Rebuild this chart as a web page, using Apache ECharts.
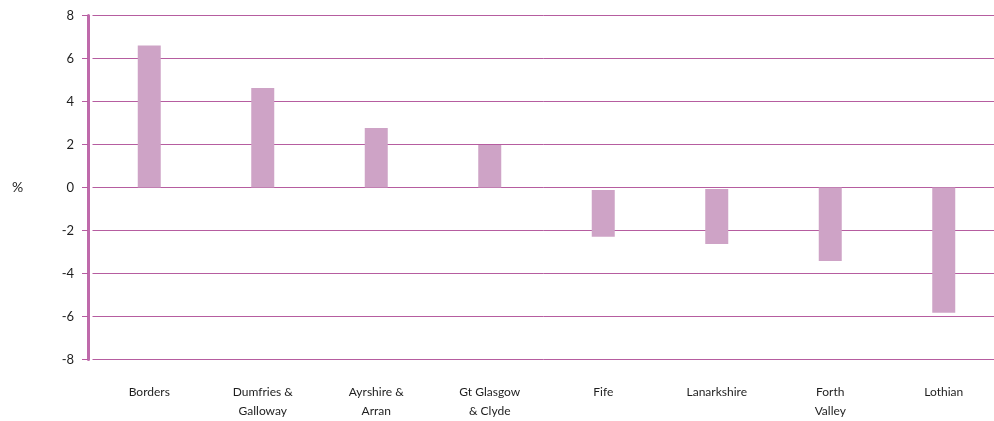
<!DOCTYPE html>
<html>
<head>
<meta charset="utf-8">
<script src="https://cdn.jsdelivr.net/npm/echarts@6/dist/echarts.min.js"></script>
<style>
  html, body { margin: 0; padding: 0; background: #ffffff; }
  #chart { width: 994px; height: 421px; }
</style>
</head>
<body>
<div id="chart"></div>
<script>
// Regions along the category axis
const regions = ['Borders', 'Dumfries &\nGalloway', 'Ayrshire &\nArran', 'Gt Glasgow\n& Clyde', 'Fife', 'Lanarkshire', 'Forth\nValley', 'Lothian'];
// Where each bar begins and ends (percent)
const barStart = [0, 0, 0, 0, -0.12, -0.07, 0, 0];
const barEnd = [6.6, 4.63, 2.77, 1.98, -2.29, -2.63, -3.42, -5.82];
// Value axis ticks
const yTicks = [-8, -6, -4, -2, 0, 2, 4, 6, 8];

const lineColor = '#b65da0';
const barColor = '#cea3c6';
const textColor = '#1e1e1e';
const fontFamily = 'Lato, "Open Sans", sans-serif';

const barLength = barEnd.map((v, i) => +(v - barStart[i]).toFixed(2));

const chart = echarts.init(document.getElementById('chart'), null, { renderer: 'canvas' });
chart.setOption({
  animation: false,
  backgroundColor: '#ffffff',
  // plot area runs a little past the right edge of the canvas
  grid: { left: 92.5, width: 908, top: 15.5, height: 344, containLabel: false, outerBoundsMode: 'none' },
  xAxis: {
    type: 'category',
    data: regions,
    axisLine: { show: false },
    axisTick: { show: false },
    axisLabel: {
      margin: 23,
      color: textColor,
      fontFamily: fontFamily,
      fontSize: 12,
      lineHeight: 19,
      interval: 0
    },
    splitLine: { show: false }
  },
  yAxis: {
    type: 'value',
    min: yTicks[0],
    max: yTicks[yTicks.length - 1],
    interval: 2,
    offset: 4.5,
    axisLine: { show: true, onZero: false, lineStyle: { color: '#bf6aab', width: 3 } },
    axisTick: { show: true, length: 6, lineStyle: { color: lineColor, width: 1 } },
    axisLabel: {
      margin: 14,
      color: textColor,
      fontFamily: fontFamily,
      fontSize: 13
    },
    splitLine: { show: true, lineStyle: { color: lineColor, width: 1 } }
  },
  series: [
    {
      type: 'bar',
      stack: 'range',
      data: barStart,
      barWidth: 23,
      itemStyle: { color: 'transparent' },
      silent: true
    },
    {
      type: 'bar',
      stack: 'range',
      data: barLength,
      barWidth: 23,
      itemStyle: { color: barColor }
    }
  ],
  graphic: [
    {
      type: 'text',
      left: 12,
      top: 180,
      style: { text: '%', fill: textColor, font: '14px ' + fontFamily }
    }
  ]
});
</script>
</body>
</html>
